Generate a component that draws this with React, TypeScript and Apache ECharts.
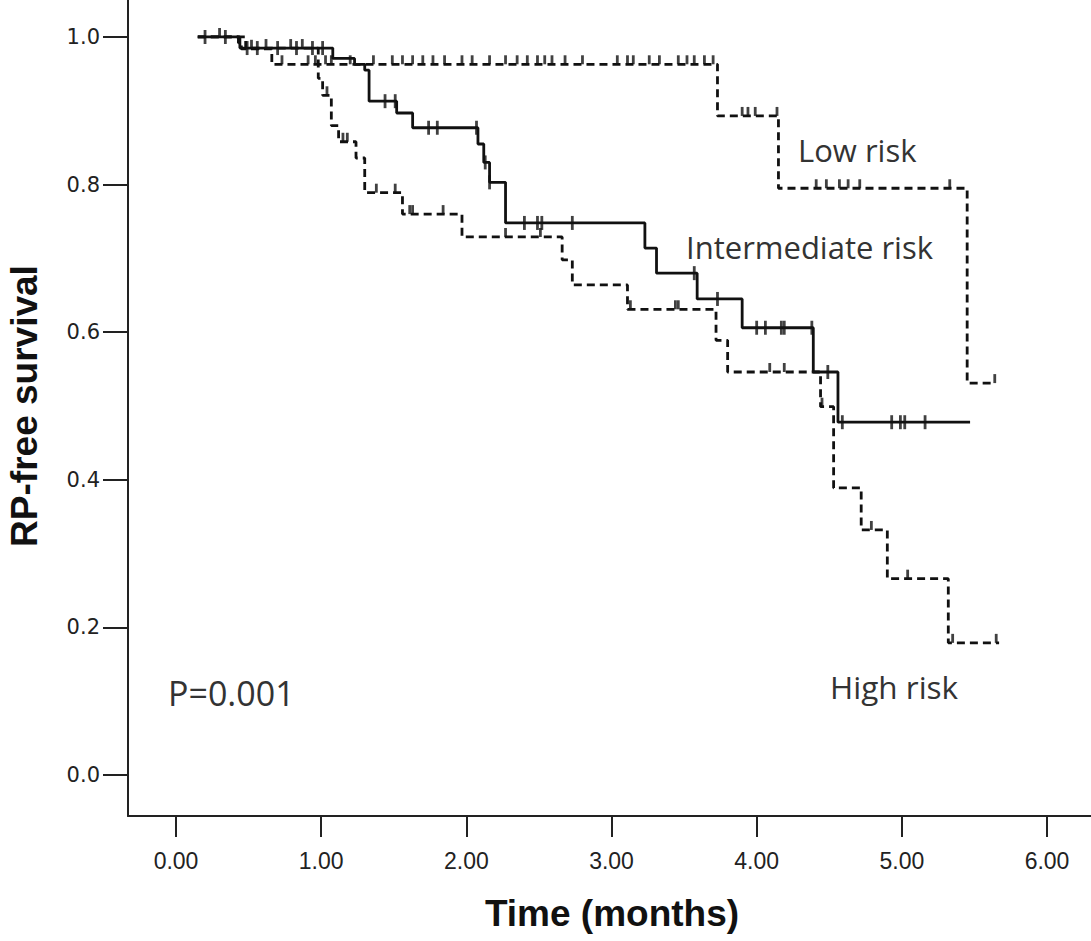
import React, { useEffect, useRef } from "react";
import * as echarts from "echarts";

// ---- axis ticks ----
const X_TICKS = [0, 1, 2, 3, 4, 5, 6];
const Y_TICKS = [0, 0.2, 0.4, 0.6, 0.8, 1.0];

// ---- Low risk (dashed) ----
const lowTimes = [0.15, 0.43, 0.45, 0.66, 3.73, 4.15, 5.45, 5.64];
const lowSurv = [1.0, 0.992, 0.984, 0.963, 0.893, 0.795, 0.531, 0.531];
const lowCensor = [
  0.3, 0.52, 0.73, 0.91, 0.96, 1.03, 1.07, 1.2, 1.36, 1.49, 1.56, 1.63, 1.7, 1.77, 1.85,
  1.97, 2.04, 2.16, 2.27, 2.35, 2.42, 2.49, 2.54, 2.59, 2.68, 2.8, 3.04, 3.11, 3.15, 3.26,
  3.33, 3.46, 3.52, 3.57, 3.64, 3.7, 3.9, 3.94, 3.99, 4.14, 4.41, 4.48, 4.57, 4.63, 4.71,
  5.33, 5.64,
];

// ---- Intermediate risk (solid) ----
const intTimes = [0.15, 0.44, 1.08, 1.23, 1.3, 1.33, 1.52, 1.63, 2.08, 2.12, 2.16, 2.27, 3.23, 3.31, 3.59, 3.9, 4.39, 4.56, 5.47];
const intSurv = [1.0, 0.985, 0.971, 0.963, 0.955, 0.913, 0.897, 0.877, 0.855, 0.83, 0.803, 0.748, 0.714, 0.68, 0.645, 0.606, 0.546, 0.478, 0.478];
const intCensor = [
  0.2, 0.34, 0.49, 0.56, 0.7, 0.83, 0.94, 1.01, 1.44, 1.51, 1.74, 1.8, 2.07, 2.13, 2.16,
  2.4, 2.49, 2.52, 2.73, 3.57, 3.73, 4.0, 4.06, 4.17, 4.19, 4.38, 4.49, 4.59, 4.93, 4.99,
  5.02, 5.16,
];

// ---- High risk (dashed) ----
const highTimes = [0.15, 0.48, 0.98, 1.01, 1.07, 1.12, 1.24, 1.3, 1.56, 1.97, 2.66, 2.73, 3.11, 3.72, 3.8, 4.44, 4.53, 4.72, 4.9, 5.32, 5.67];
const highSurv = [1.0, 0.985, 0.944, 0.921, 0.88, 0.858, 0.836, 0.789, 0.76, 0.729, 0.698, 0.664, 0.631, 0.589, 0.546, 0.499, 0.389, 0.332, 0.266, 0.179, 0.179];
const highCensor = [
  0.62, 0.79, 0.87, 1.04, 1.15, 1.18, 1.38, 1.51, 1.61, 1.63, 1.84, 2.27, 2.51, 3.13,
  3.44, 3.46, 4.09, 4.19, 4.45, 4.79, 5.04, 5.35, 5.65,
];

const LABELS = {
  low: "Low risk",
  mid: "Intermediate risk",
  high: "High risk",
  p: "P=0.001",
  x: "Time (months)",
  y: "RP-free survival",
};

function survAt(times: number[], surv: number[], t: number) {
  let v = surv[0];
  for (let i = 0; i < times.length; i++) if (times[i] <= t) v = surv[i];
  return v;
}
const curve = (times: number[], surv: number[]) => times.map((t, i) => [t, surv[i]]);
const marks = (times: number[], surv: number[], c: number[]) => c.map((t) => [t, survAt(times, surv, t)]);

const INK = "#111";

export default function App() {
  const ref = useRef<HTMLDivElement>(null);
  useEffect(() => {
    if (!ref.current) return;
    const chart = echarts.init(ref.current, null, { renderer: "svg" });
    const lineBase = (name: string, data: number[][], dashed: boolean) => ({
      name,
      type: "line",
      step: "end",
      data,
      symbol: "none",
      lineStyle: { color: INK, width: 2.8, type: dashed ? [8, 5] : "solid" },
      z: 3,
    });
    const censorBase = (name: string, data: number[][], cross: boolean) => ({
      name,
      type: "scatter",
      data,
      symbol: "rect",
      symbolSize: cross ? [2.8, 14] : [2.8, 9],
      symbolOffset: cross ? [0, 0] : [0, -4.5],
      itemStyle: { color: INK },
      z: 4,
    });
    const annoFont = {
      fontFamily: "'Open Sans', 'Noto Sans', sans-serif",
      fontSize: 31,
      fill: "#333",
      verticalAlign: "middle",
    };
    chart.setOption({
      animation: false,
      backgroundColor: "#fff",
      grid: { left: 128, right: 0, top: 0, bottom: 125 },
      xAxis: {
        type: "value",
        min: -0.3307,
        max: 6.303,
        axisLine: { show: true, onZero: false, lineStyle: { color: "#222", width: 2 } },
        axisTick: { show: true, customValues: X_TICKS, length: 21, lineStyle: { color: "#222", width: 2 } },
        axisLabel: {
          customValues: X_TICKS,
          formatter: (v: number) => v.toFixed(2),
          margin: 33,
          fontFamily: "'Liberation Sans Narrow', 'Liberation Sans', Arial, sans-serif",
          fontSize: 23,
          color: "#222",
        },
        splitLine: { show: false },
      },
      yAxis: {
        type: "value",
        min: -0.0556,
        max: 1.0501,
        axisLine: { show: true, onZero: false, lineStyle: { color: "#222", width: 2 } },
        axisTick: { show: true, customValues: Y_TICKS, length: 25, lineStyle: { color: "#222", width: 2 } },
        axisLabel: {
          customValues: Y_TICKS,
          formatter: (v: number) => v.toFixed(1),
          margin: 28,
          fontFamily: "'DejaVu Sans', sans-serif",
          fontSize: 21,
          color: "#222",
        },
        splitLine: { show: false },
      },
      graphic: [
        { type: "text", x: 798, y: 150, style: { text: LABELS.low, ...annoFont } },
        { type: "text", x: 686, y: 247, style: { text: LABELS.mid, ...annoFont } },
        { type: "text", x: 830, y: 686, style: { text: LABELS.high, ...annoFont, fontSize: 31.5 } },
        { type: "text", x: 168, y: 693, style: { text: LABELS.p, ...annoFont, fontSize: 34 } },
        {
          type: "text",
          x: 612,
          y: 913,
          style: {
            text: LABELS.x,
            fontFamily: "'Liberation Sans', Arial, sans-serif",
            fontWeight: "bold",
            fontSize: 37,
            fill: "#111",
            align: "center",
            verticalAlign: "middle",
          },
        },
        {
          type: "text",
          x: 24,
          y: 406,
          rotation: Math.PI / 2,
          style: {
            text: LABELS.y,
            fontFamily: "'Liberation Sans', Arial, sans-serif",
            fontWeight: "bold",
            fontSize: 37,
            fill: "#111",
            align: "center",
            verticalAlign: "middle",
          },
        },
      ],
      series: [
        lineBase("Low risk", curve(lowTimes, lowSurv), true),
        lineBase("Intermediate risk", curve(intTimes, intSurv), false),
        lineBase("High risk", curve(highTimes, highSurv), true),
        censorBase("Low risk censored", marks(lowTimes, lowSurv, lowCensor), false),
        censorBase("Intermediate risk censored", marks(intTimes, intSurv, intCensor), true),
        censorBase("High risk censored", marks(highTimes, highSurv, highCensor), false),
      ],
    });
    return () => chart.dispose();
  }, []);
  return (
    <div
      ref={ref}
      style={{ position: "fixed", left: 0, top: 0, width: 1091, height: 941, background: "#fff" }}
    />
  );
}
